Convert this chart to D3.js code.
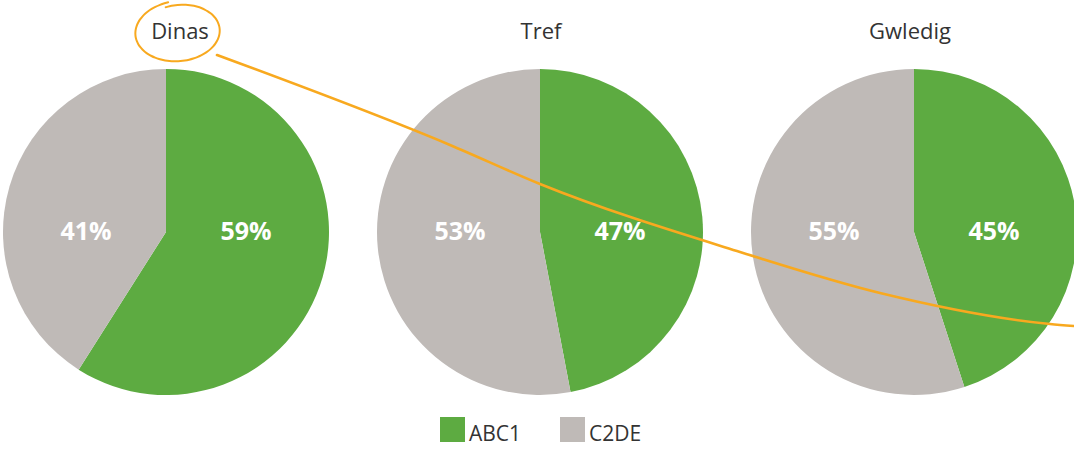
<!DOCTYPE html>
<html>
<head>
<meta charset="utf-8">
<script src="https://cdn.jsdelivr.net/npm/d3@7"></script>
<style>
  body { margin: 0; background: #fff; }
  text { font-family: "Open Sans", sans-serif; }
</style>
</head>
<body>
<svg id="graph"></svg>
<script>
var screenWidth = 1074;
var screenHeight = 451;

// data
var areas = ['Dinas', 'Tref', 'Gwledig'];
var groups = ['ABC1', 'C2DE'];
var abc1 = [59, 47, 45];
var c2de = [41, 53, 55];

var colors = ['#5dab41', '#bfbab7'];
var orange = '#f8a91f';

var radius = 163;
var centerY = 232;

var svg = d3.select('#graph')
	.attr('width', screenWidth)
	.attr('height', screenHeight);

// pie centres along x
var x = d3.scalePoint()
	.domain(areas)
	.range([166, 914]);

var pie = d3.pie()
	.sort(null)
	.value(function(d) { return d.value; });

var arc = d3.arc()
	.innerRadius(0)
	.outerRadius(radius);

var pies = svg.selectAll('g.pie')
	.data(areas)
	.enter()
	.append('g')
	.classed('pie', true)
	.attr('transform', function(d) { return 'translate(' + x(d) + ',' + centerY + ')'; });

pies.selectAll('path')
	.data(function(d, i) {
		return pie([{ key: groups[0], value: abc1[i] }, { key: groups[1], value: c2de[i] }]);
	})
	.enter()
	.append('path')
	.attr('d', arc)
	.attr('fill', function(d, i) { return colors[i]; });

// labels: green on the right, grey on the left
pies.selectAll('text.label')
	.data(function(d, i) { return [abc1[i], c2de[i]]; })
	.enter()
	.append('text')
	.classed('label', true)
	.attr('x', function(d, i) { return i == 0 ? 80 : -80; })
	.attr('y', 8)
	.attr('text-anchor', 'middle')
	.attr('fill', '#fff')
	.style('font-size', '25px')
	.style('font-weight', 'bold')
	.text(function(d) { return d + '%'; });

// titles
var titleDx = [14, 1, -4];
svg.selectAll('text.title')
	.data(areas)
	.enter()
	.append('text')
	.classed('title', true)
	.attr('x', function(d, i) { return x(d) + titleDx[i]; })
	.attr('y', 39)
	.attr('text-anchor', 'middle')
	.attr('fill', '#333')
	.style('font-size', '22px')
	.text(function(d) { return d; });

// legend
var legend = svg.append('g')
	.attr('transform', 'translate(440,417)');
var item = legend.selectAll('g')
	.data(groups)
	.enter()
	.append('g')
	.attr('transform', function(d, i) { return 'translate(' + i * 120 + ',0)'; });
item.append('rect')
	.attr('width', 25)
	.attr('height', 25)
	.attr('fill', function(d, i) { return colors[i]; });
item.append('text')
	.attr('x', 29)
	.attr('y', 24)
	.attr('fill', '#333')
	.style('font-size', '21px')
	.text(function(d) { return d; });

// hand drawn annotation: circle round "Dinas" and a line across
var ring = d3.range(-110, 262, 6).map(function(a) {
	var t = a * Math.PI / 180;
	var grow = 1 + (a + 110) / 2400;
	return [179 + 39 * grow * Math.cos(t), 32 + 27 * grow * Math.sin(t) - 2 * Math.cos(t)];
});
svg.append('path')
	.attr('d', d3.line().curve(d3.curveBasis)(ring))
	.attr('fill', 'none')
	.attr('stroke', orange)
	.attr('stroke-width', 2)
	.attr('stroke-linecap', 'round');

var stroke = [[217, 55], [450, 145], [540, 184], [740, 252], [880, 293], [1050, 324], [1074, 326]];
svg.append('path')
	.attr('d', d3.line().curve(d3.curveMonotoneX)(stroke))
	.attr('fill', 'none')
	.attr('stroke', orange)
	.attr('stroke-width', 2.6)
	.attr('stroke-linecap', 'round');
</script>
</body>
</html>
